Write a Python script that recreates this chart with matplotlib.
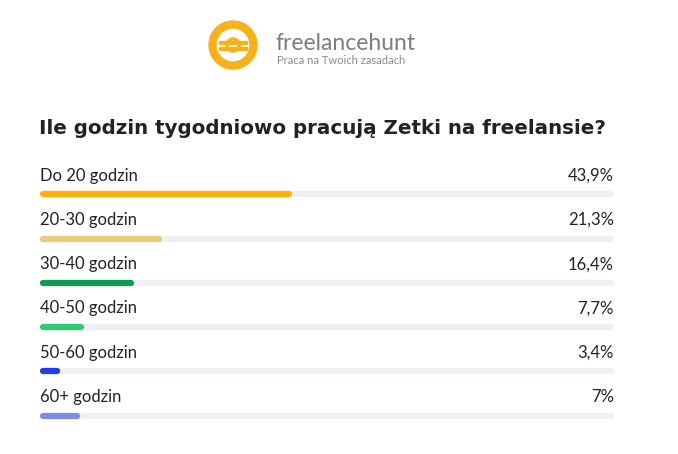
import matplotlib
matplotlib.use("Agg")
import matplotlib.pyplot as plt
from matplotlib.patches import Circle, Wedge, Rectangle

categories = ["Do 20 godzin", "20-30 godzin", "30-40 godzin", "40-50 godzin", "50-60 godzin", "60+ godzin"]
values = [43.9, 21.3, 16.4, 7.7, 3.4, 7.0]
value_labels = ["43,9%", "21,3%", "16,4%", "7,7%", "3,4%", "7%"]
colors = ["#FFB10A", "#EBCB7C", "#11994F", "#2FCB73", "#1F3FE6", "#7E8DE3"]
title = "Ile godzin tygodniowo pracują Zetki na freelansie?"

W, H = 678, 454
fig = plt.figure(figsize=(W/100, H/100), dpi=100)
fig.patch.set_facecolor("white")
bg = fig.add_axes([0, 0, 1, 1])
bg.set_xlim(0, W); bg.set_ylim(H, 0); bg.axis("off")

# logo
bg.add_patch(Wedge((233, 45), 24, 0, 360, width=7, color="#F7B21B"))
bg.add_patch(Rectangle((219, 41), 28, 3, color="#F7B21B"))
bg.add_patch(Rectangle((219, 47), 28, 3, color="#F7B21B"))
bg.add_patch(Circle((233, 45), 6, fill=False, ec="#F7B21B", lw=2.5))
bg.text(275, 44, "freelancehunt", fontsize=16.5, color="#7D7D7D", va="center", family="Lato")
bg.text(277, 61, "Praca na Twoich zasadach", fontsize=8, color="#8A8A8A", va="center", family="Lato")

bg.text(39, 128, title, fontsize=14.3, fontweight="bold", color="#222222", va="center", family="DejaVu Sans")

x0, x1 = 40, 614
ax = fig.add_axes([x0/W, 1 - 428/H, (x1-x0)/W, (428-158)/H])
ax.set_xlim(0, 100); ax.set_ylim(len(values) - 0.5, -0.6); ax.axis("off")
for i, (c, v, lab, col) in enumerate(zip(categories, values, value_labels, colors)):
    yb = i + 0.22
    ax.plot([0.5, 99.5], [yb, yb], color="#EEF0F4", lw=4.5, solid_capstyle="round")
    ax.plot([0.5, v - 0.5], [yb, yb], color=col, lw=4.5, solid_capstyle="round")
    ax.text(0, i - 0.2, c, fontsize=12, color="#222222", va="center", ha="left", family="Lato")
    ax.text(100, i - 0.2, lab, fontsize=12, color="#222222", va="center", ha="right", family="Lato")

fig.savefig("out.png", dpi=100, facecolor="white")
